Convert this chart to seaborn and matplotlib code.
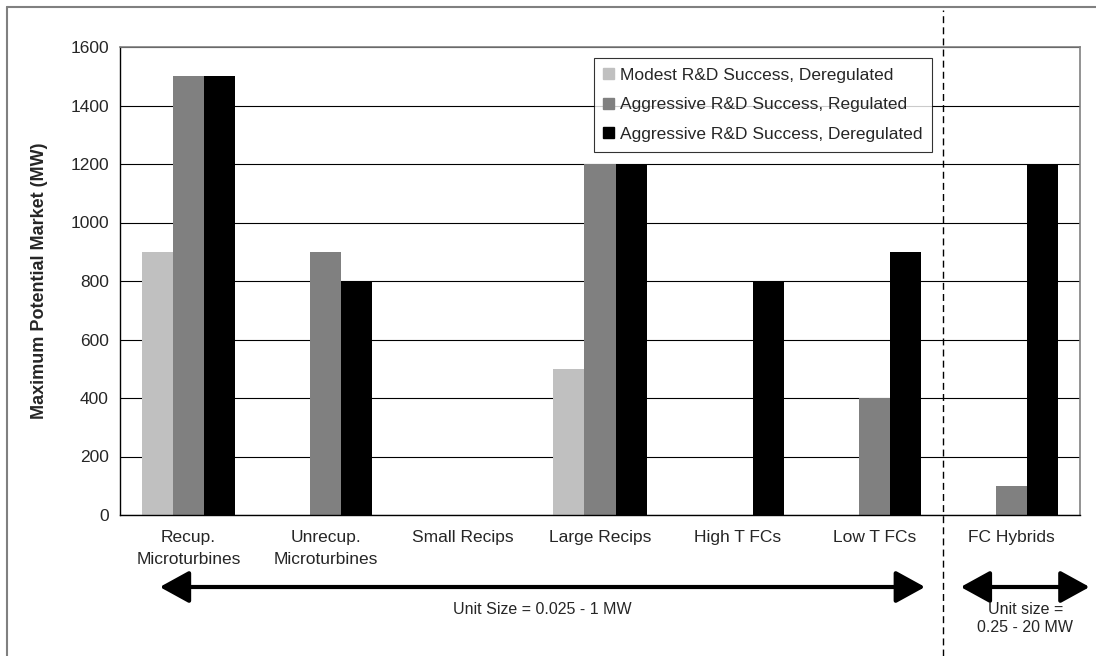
import numpy as np
import pandas as pd
import matplotlib
matplotlib.use("Agg")
import matplotlib.pyplot as plt
import matplotlib.transforms as mtransforms
from matplotlib.patches import FancyArrowPatch
from matplotlib.lines import Line2D
import seaborn as sns

categories = ["Recup.\nMicroturbines", "Unrecup.\nMicroturbines", "Small Recips",
              "Large Recips", "High T FCs", "Low T FCs", "FC Hybrids"]
series_names = ["Modest R&D Success, Deregulated",
                "Aggressive R&D Success, Regulated",
                "Aggressive R&D Success, Deregulated"]
modest_dereg = [900, 0, 0, 500, 0, 0, 0]
aggr_reg = [1500, 900, 0, 1200, 0, 400, 100]
aggr_dereg = [1500, 800, 0, 1200, 800, 900, 1200]
yticks = [0, 200, 400, 600, 800, 1000, 1200, 1400, 1600]
colors = ["#c0c0c0", "#808080", "#000000"]

rows = []
for name, vals in zip(series_names, [modest_dereg, aggr_reg, aggr_dereg]):
    for c, v in zip(categories, vals):
        rows.append({"Category": c, "Value": v, "Series": name})
df = pd.DataFrame(rows)

sns.set_style("white")
plt.rcParams["font.family"] = ["Liberation Sans", "DejaVu Sans"]

W, H = 1096, 656
fig = plt.figure(figsize=(W / 100, H / 100), dpi=100)
ax = fig.add_axes([120 / W, (H - 515) / H, 960 / W, 468 / H])

sns.barplot(data=df, x="Category", y="Value", hue="Series", order=categories,
            hue_order=series_names, palette=colors, width=0.68, saturation=1,
            linewidth=0, ax=ax)

ax.set_xlim(-0.5, len(categories) - 0.5)
ax.set_ylim(0, 1600)
ax.set_yticks(yticks)
ax.set_yticklabels([str(v) for v in yticks], fontsize=12.5)
ax.yaxis.grid(True, color="#000000", linewidth=0.8)
ax.set_axisbelow(True)
ax.tick_params(axis="y", direction="out", length=5, width=1, color="#000000", pad=3)
ax.set_xticks(range(len(categories)))
ax.set_xticklabels(categories, fontsize=12.5, linespacing=1.6)
ax.tick_params(axis="x", which="major", length=0, pad=10.5)
ax.set_xticks(np.arange(-0.5, len(categories), 1), minor=True)
ax.tick_params(axis="x", which="minor", direction="out", length=5, width=1, color="#000000")
ax.set_xlabel("")
ax.set_ylabel("Maximum Potential Market (MW)", fontsize=13, fontweight="bold")
ax.yaxis.set_label_coords(-0.075, 0.5)

for s in ["left", "bottom"]:
    ax.spines[s].set_color("#000000")
    ax.spines[s].set_linewidth(1)
for s in ["top", "right"]:
    ax.spines[s].set_color("#808080")
    ax.spines[s].set_linewidth(1.2)
    ax.spines[s].set_visible(True)

handles = [plt.Rectangle((0, 0), 1, 1, color=c) for c in colors]
leg = ax.legend(handles, series_names, loc="upper right",
                bbox_to_anchor=(932 / W, (H - 58) / H), bbox_transform=fig.transFigure,
                fontsize=12.5, frameon=True, fancybox=False, handlelength=0.6,
                handleheight=0.6, handletextpad=0.35, borderpad=0.55, labelspacing=0.85,
                borderaxespad=0)
leg.get_frame().set_edgecolor("#000000")
leg.get_frame().set_linewidth(0.8)

# dashed separator at category boundary
blend = mtransforms.blended_transform_factory(ax.transData, fig.transFigure)
fig.add_artist(Line2D([5.5, 5.5], [0, (H - 10) / H], transform=blend,
                      color="#000000", linestyle=(0, (5, 3)), linewidth=1))

# unit size arrows
arrow_y = (H - 587) / H
left_span = (-0.21, 5.37)
right_span = (5.63, 6.57)
for x0, x1 in [left_span, right_span]:
    arr = FancyArrowPatch((x0, arrow_y), (x1, arrow_y), transform=blend,
                          arrowstyle="<|-|>,head_length=1.0,head_width=0.55",
                          mutation_scale=18, linewidth=3, color="#000000",
                          shrinkA=0, shrinkB=0)
    fig.add_artist(arr)
fig.text(sum(left_span) / 2, (H - 609) / H, "Unit Size = 0.025 - 1 MW",
         transform=blend, ha="center", va="center", fontsize=11.5)
fig.text(sum(right_span) / 2, (H - 618) / H, "Unit size =\n0.25 - 20 MW",
         transform=blend, ha="center", va="center", fontsize=11.5, linespacing=1.25)

# outer border (top and left visible)
fig.add_artist(Line2D([7 / W, 1], [(H - 7) / H, (H - 7) / H], transform=fig.transFigure,
                      color="#808080", linewidth=1.5))
fig.add_artist(Line2D([7 / W, 7 / W], [0, (H - 7) / H], transform=fig.transFigure,
                      color="#808080", linewidth=1.5))

fig.savefig("out.png", dpi=100)
